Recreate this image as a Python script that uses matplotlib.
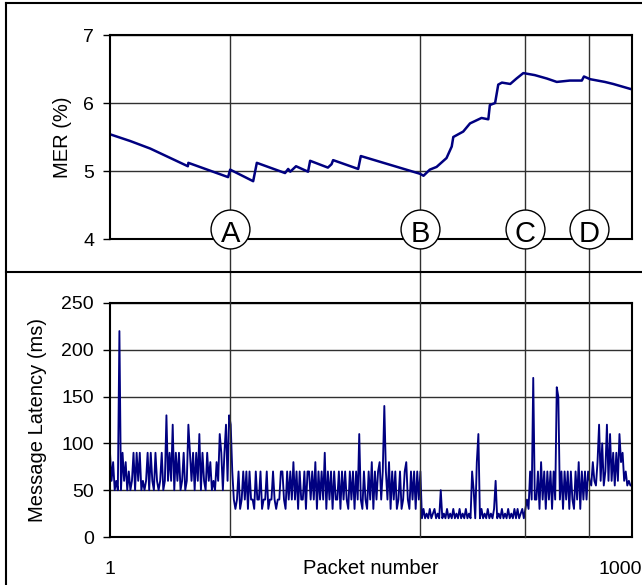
import numpy as np
import matplotlib
matplotlib.use("Agg")
import matplotlib.pyplot as plt
import matplotlib.transforms as mtrans
from matplotlib.lines import Line2D

plt.rcParams['font.family'] = ['Liberation Sans', 'DejaVu Sans']

# --- data ------------------------------------------------------------------
# upper panel: MER (%) vs packet number
mer_packet = [1, 40, 78, 150, 151, 227, 231, 275, 282, 336, 342,
              346, 357, 380, 384, 418, 425, 428, 476, 481, 594,
              601, 613, 626, 645, 655, 658, 677, 690, 712, 725,
              728, 738, 744, 751, 767, 779, 792, 814, 837, 856,
              881, 904, 908, 920, 948, 964, 1000]
mer_value = [5.54, 5.44, 5.33, 5.07, 5.12, 4.91, 5.02, 4.85, 5.12, 4.97, 5.03,
             4.99, 5.07, 4.99, 5.15, 5.05, 5.10, 5.16, 5.03, 5.22, 4.96,
             4.93, 5.02, 5.06, 5.19, 5.36, 5.50, 5.58, 5.70, 5.78, 5.76,
             5.97, 6.00, 6.27, 6.30, 6.28, 6.36, 6.44, 6.41, 6.36, 6.31,
             6.33, 6.33, 6.39, 6.35, 6.31, 6.28, 6.20]

# lower panel: message latency (ms), one value every 3rd packet, per segment
lat_seg1 = [90, 60, 80, 50, 60, 50, 220, 50, 90, 60,
            80, 50, 70, 50, 60, 90, 50, 90, 60, 90,
            50, 60, 50, 60, 90, 50, 90, 60, 50, 90,
            60, 50, 60, 90, 50, 60, 130, 60, 90, 60,
            120, 50, 90, 60, 90, 50, 60, 90, 50, 60,
            120, 90, 60, 90, 50, 90, 60, 110, 50, 90,
            60, 50, 90, 60, 80, 50, 60, 50, 80, 60,
            110, 90, 50, 90, 120, 60, 130, 120]
lat_seg2 = [70, 40, 30, 40, 70, 30, 40, 70, 40, 70,
            30, 70, 40, 40, 30, 70, 40, 40, 70, 30,
            40, 40, 70, 30, 40, 40, 70, 40, 30, 40,
            40, 70, 70, 40, 30, 70, 40, 70, 40, 80,
            40, 70, 30, 70, 40, 40, 70, 30, 70, 70,
            40, 70, 40, 80, 30, 70, 40, 70, 40, 90,
            30, 70, 40, 70, 30, 70, 40, 40, 70, 30,
            70, 40, 70, 40, 30, 70, 40, 70, 30, 70,
            40, 110, 40, 30, 70, 40, 30, 70, 40, 80,
            30, 70, 40, 70, 80, 40, 70, 140, 70, 40,
            80, 30, 70, 40, 70, 30, 40, 70, 30, 40,
            70, 80, 40, 30, 70, 40, 70, 30, 70, 40,
            70]
lat_seg3 = [20, 30, 20, 25, 20, 30, 20, 25, 30, 20,
            25, 20, 50, 20, 25, 20, 30, 20, 25, 20,
            30, 20, 25, 20, 30, 20, 25, 20, 30, 20,
            25, 20, 70, 50, 20, 80, 110, 20, 30, 20,
            25, 20, 30, 20, 25, 20, 30, 60, 20, 25,
            20, 30, 20, 25, 20, 30, 20, 25, 20, 30,
            20, 30, 20, 25, 30, 20]
lat_seg4 = [30, 40, 30, 70, 40, 170, 40, 40, 70, 30,
            80, 40, 70, 30, 70, 40, 70, 30, 70, 40,
            160, 150, 40, 70, 30, 70, 40, 70, 30, 70,
            40, 30, 70, 40, 80, 30, 70, 40, 70, 40,
            70]
lat_seg5 = [60, 55, 80, 60, 55, 80, 120, 60, 100, 55,
            70, 120, 60, 110, 60, 90, 55, 90, 60, 110,
            80, 90, 60, 70, 55, 60, 55, 55]

event_packets = [231, 595, 795, 917]
event_labels = ['A', 'B', 'C', 'D']

latency = np.array(lat_seg1 + lat_seg2 + lat_seg3 + lat_seg4 + lat_seg5)
lat_packet = np.arange(1, 1001, 3)

navy = '#000080'
gridc = '#303030'
W, H = 642.0, 585.0

fig = plt.figure(figsize=(6.42, 5.85), dpi=100)
ax1 = fig.add_axes([110 / W, 1 - 239 / H, 522 / W, 204 / H], facecolor='none', zorder=3)
ax2 = fig.add_axes([110 / W, 1 - 537 / H, 522 / W, 234 / H], facecolor='none', zorder=0)

# upper panel
ax1.plot(mer_packet, mer_value, color=navy, lw=1.8)
ax1.set_xlim(1, 1000)
ax1.set_ylim(4, 7)
ax1.set_yticks([4, 5, 6, 7])
ax1.set_xticks([])
ax1.set_ylabel('MER (%)', fontsize=14.5)
ax1.yaxis.set_label_coords(-0.091, 0.5)
ax1.yaxis.label.set_va('center')

# lower panel
ax2.plot(lat_packet, latency, color=navy, lw=1.35)
ax2.set_xlim(1, 1000)
ax2.set_ylim(0, 250)
ax2.set_yticks(range(0, 251, 50))
ax2.set_xticks([1, 1000], ['1', '1000'])
ax2.tick_params(axis='x', length=0, pad=17.5, labelsize=14)
ax2.set_xlabel('Packet number', fontsize=14.5)
ax2.xaxis.set_label_coords(0.5, -0.094)
ax2.set_ylabel('Message Latency (ms)', fontsize=14.5)
ax2.yaxis.set_label_coords(-0.138, 0.5)
ax2.yaxis.label.set_va('center')

for ax in (ax1, ax2):
    ax.yaxis.grid(True, color=gridc, lw=1.0)
    ax.set_axisbelow(True)
    ax.tick_params(axis='y', direction='out', length=5, width=1, pad=6.5, labelsize=14)
    for sp in ax.spines.values():
        sp.set_linewidth(1.5)
        sp.set_color('black')

# event lines running through both panels
trans = mtrans.blended_transform_factory(ax1.transData, fig.transFigure)
y_lo = 1 - 537 / H
y_hi = 1 - 35 / H
for xp in event_packets:
    fig.add_artist(Line2D([xp, xp], [y_lo, y_hi], transform=trans, color=gridc, lw=1.0, zorder=2))

# circled labels
circle_y = 4.147
ax1.plot(event_packets, [circle_y] * len(event_packets), 'o', ms=28, mfc='white',
         mec='black', mew=1.0, clip_on=False, zorder=5)
for xp, lab in zip(event_packets, event_labels):
    ax1.text(xp, 3.955, lab, ha='center', va='baseline', fontsize=21, zorder=6, clip_on=False)

# outer frame
fx = 6 / W
fig.add_artist(Line2D([fx, 1], [1 - 3 / H] * 2, color='black', lw=1.5))
fig.add_artist(Line2D([fx, fx], [0, 1 - 3 / H], color='black', lw=1.5))
fig.add_artist(Line2D([fx, 1], [1 - 272 / H] * 2, color='black', lw=1.5))

# nudge the "1000" label left as in the original
tl = ax2.xaxis.get_major_ticks()[1].label1
tl.set_transform(tl.get_transform() + mtrans.ScaledTranslation(-0.12, 0, fig.dpi_scale_trans))

fig.savefig('out.png', dpi=100)
